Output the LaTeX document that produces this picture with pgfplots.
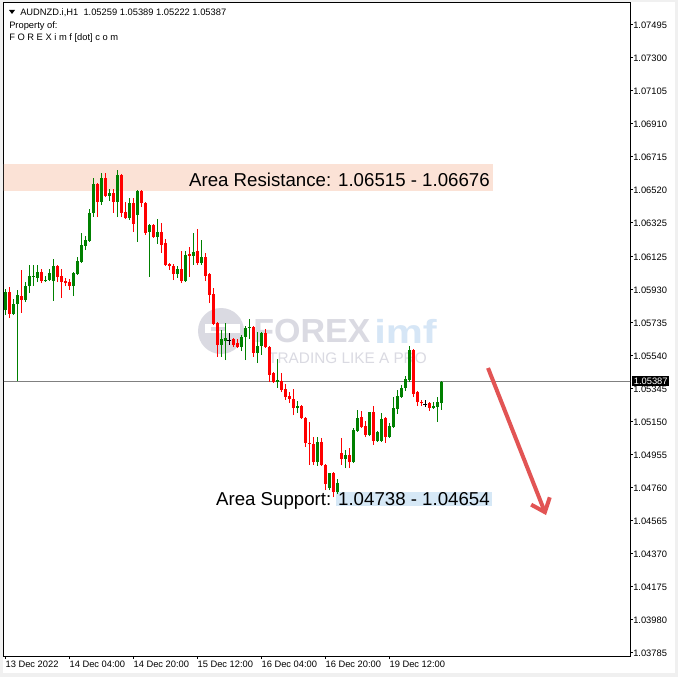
\documentclass[border=0pt]{standalone}
\usepackage{fontspec}
\setmainfont{Liberation Sans}
\usepackage{pgfplots}
\usepackage{pgfplotstable}
\pgfplotsset{compat=1.18}
\usetikzlibrary{arrows.meta}

\definecolor{upc}{RGB}{0,128,0}
\definecolor{dnc}{RGB}{255,0,0}
\definecolor{resc}{RGB}{251,226,214}
\definecolor{supc}{RGB}{214,232,246}
\definecolor{arrc}{RGB}{226,84,84}
\definecolor{wmgray}{RGB}{218,218,226}
\definecolor{wmblue}{RGB}{214,230,246}
\definecolor{winbg}{RGB}{240,240,240}
\definecolor{pline}{RGB}{128,128,128}

% AUDNZD H1 candles, index = bar number from the left
\pgfplotstableread{
i o h l c
0 1.05811 1.05935 1.05781 1.05917
1 1.05917 1.05947 1.05763 1.05787
2 1.05787 1.05876 1.05781 1.05846
3 1.05846 1.05929 1.05391 1.05899
4 1.05893 1.06047 1.05793 1.05870
5 1.05870 1.05976 1.05858 1.05952
6 1.05952 1.06077 1.05911 1.06012
7 1.06006 1.06077 1.05952 1.06012
8 1.06000 1.06077 1.05976 1.06035
9 1.06035 1.06053 1.05970 1.05982
10 1.05982 1.06012 1.05976 1.05988
11 1.05988 1.06053 1.05982 1.06029
12 1.05982 1.06112 1.05864 1.06071
13 1.06071 1.06077 1.05976 1.06006
14 1.06012 1.06053 1.05882 1.05976
15 1.05982 1.06000 1.05952 1.05970
16 1.05976 1.05994 1.05929 1.05952
17 1.05952 1.06035 1.05893 1.06029
18 1.06023 1.06124 1.06018 1.06100
19 1.06094 1.06266 1.06088 1.06195
20 1.06189 1.06248 1.06165 1.06224
21 1.06218 1.06408 1.06213 1.06384
22 1.06384 1.06591 1.06360 1.06555
23 1.06555 1.06561 1.06360 1.06449
24 1.06449 1.06620 1.06431 1.06591
25 1.06591 1.06620 1.06478 1.06484
26 1.06484 1.06526 1.06455 1.06502
27 1.06502 1.06526 1.06384 1.06449
28 1.06449 1.06638 1.06360 1.06609
29 1.06609 1.06614 1.06360 1.06384
30 1.06390 1.06449 1.06348 1.06354
31 1.06354 1.06473 1.06343 1.06443
32 1.06443 1.06473 1.06272 1.06319
33 1.06372 1.06520 1.06213 1.06514
34 1.06514 1.06520 1.06419 1.06443
35 1.06443 1.06449 1.06254 1.06266
36 1.06272 1.06319 1.06006 1.06313
37 1.06313 1.06319 1.06236 1.06242
38 1.06242 1.06348 1.06201 1.06272
39 1.06272 1.06325 1.06148 1.06195
40 1.06207 1.06230 1.06071 1.06077
41 1.06083 1.06088 1.06047 1.06071
42 1.06071 1.06083 1.05988 1.06023
43 1.06023 1.06071 1.06000 1.06053
44 1.06053 1.06159 1.05970 1.05982
45 1.05982 1.06159 1.05976 1.06136
46 1.06142 1.06183 1.06006 1.06130
47 1.06130 1.06266 1.06077 1.06153
48 1.06159 1.06289 1.06077 1.06088
49 1.06088 1.06224 1.06077 1.06124
50 1.06124 1.06148 1.05982 1.06012
51 1.06023 1.06029 1.05852 1.05899
52 1.05905 1.05941 1.05722 1.05728
53 1.05734 1.05740 1.05533 1.05604
54 1.05604 1.05692 1.05533 1.05639
55 1.05627 1.05734 1.05515 1.05645
56 1.05633 1.05675 1.05604 1.05633
57 1.05639 1.05645 1.05592 1.05604
58 1.05616 1.05639 1.05586 1.05592
59 1.05592 1.05663 1.05568 1.05651
60 1.05651 1.05716 1.05515 1.05704
61 1.05704 1.05757 1.05639 1.05710
62 1.05710 1.05716 1.05533 1.05557
63 1.05557 1.05681 1.05497 1.05598
64 1.05598 1.05681 1.05545 1.05675
65 1.05675 1.05698 1.05586 1.05592
66 1.05592 1.05598 1.05385 1.05427
67 1.05438 1.05444 1.05379 1.05385
68 1.05385 1.05521 1.05350 1.05397
69 1.05391 1.05438 1.05326 1.05338
70 1.05344 1.05373 1.05279 1.05296
71 1.05302 1.05326 1.05261 1.05285
72 1.05285 1.05344 1.05190 1.05231
73 1.05231 1.05273 1.05202 1.05243
74 1.05243 1.05249 1.05166 1.05172
75 1.05172 1.05178 1.05001 1.05025
76 1.05025 1.05149 1.04895 1.05019
77 1.05019 1.05060 1.04895 1.04912
78 1.04912 1.05060 1.04889 1.05031
79 1.05031 1.05054 1.04889 1.04895
80 1.04895 1.04901 1.04747 1.04783
81 1.04759 1.04847 1.04747 1.04847
82 1.04847 1.04853 1.04705 1.04735
83 1.04735 1.04812 1.04723 1.04788
84 1.04966 1.05054 1.04895 1.04930
85 1.04930 1.04983 1.04877 1.04954
86 1.04954 1.04995 1.04877 1.04912
87 1.04912 1.05113 1.04906 1.05101
88 1.05096 1.05220 1.05090 1.05172
89 1.05178 1.05214 1.05113 1.05119
90 1.05125 1.05155 1.05060 1.05072
91 1.05072 1.05208 1.05066 1.05208
92 1.05208 1.05243 1.05013 1.05036
93 1.05036 1.05096 1.05031 1.05090
94 1.05036 1.05202 1.05031 1.05166
95 1.05172 1.05178 1.05025 1.05060
96 1.05060 1.05143 1.05054 1.05125
97 1.05119 1.05296 1.05113 1.05231
98 1.05226 1.05338 1.05196 1.05302
99 1.05296 1.05367 1.05291 1.05350
100 1.05350 1.05421 1.05332 1.05403
101 1.05397 1.05598 1.05385 1.05574
102 1.05574 1.05580 1.05296 1.05314
103 1.05326 1.05332 1.05243 1.05267
104 1.05267 1.05279 1.05243 1.05261
105 1.05255 1.05279 1.05237 1.05255
106 1.05261 1.05267 1.05214 1.05231
107 1.05231 1.05267 1.05226 1.05243
108 1.05237 1.05296 1.05149 1.05267
109 1.05259 1.05389 1.05222 1.05387
}\candles

\begin{document}
\begin{tikzpicture}
% window background and watermark (px units, y down)
\begin{scope}[x=0.75pt,y=-0.75pt]
  \fill[winbg] (0,0) rectangle (678,677);
  \fill[white] (3,2) rectangle (675,673);
  \fill[wmgray] (221,331) circle (23);
  \fill[white] (205,324) rectangle (240,333);
  \fill[wmgray] (211,327) rectangle (226,331);
  \node[anchor=west, inner sep=0, text=wmgray, font=\bfseries\fontsize{25}{28}\selectfont, xscale=1.02] at (253,331) {FOREX};
  \node[anchor=west, inner sep=0, text=wmblue, font=\bfseries\fontsize{25}{28}\selectfont, xscale=1.25] at (374,331) {imf};
  \node[anchor=base west, inner sep=0, text=wmgray, font=\fontsize{11.5}{13}\selectfont] at (268,363) {TRADING LIKE A PRO};
\end{scope}

\begin{axis}[
    at={(3pt,-492pt)}, anchor=south west,
    scale only axis, width=469.5pt, height=489.75pt,
    xmin=-0.325, xmax=156.175,
    ymin=1.03766, ymax=1.07625,
    axis line style={black, line width=0.75pt},
    xtick={0,16,32,48,64,80,96},
    xticklabels={13 Dec 2022,14 Dec 04:00,14 Dec 20:00,15 Dec 12:00,16 Dec 04:00,16 Dec 20:00,19 Dec 12:00},
    ytick={1.07495,1.07300,1.07105,1.06910,1.06715,1.06520,1.06325,1.06125,1.05930,1.05735,1.05540,1.05345,1.05150,1.04955,1.04760,1.04565,1.04370,1.04175,1.03980,1.03785},
    yticklabels={1.07495,1.07300,1.07105,1.06910,1.06715,1.06520,1.06325,1.06125,1.05930,1.05735,1.05540,1.05345,1.05150,1.04955,1.04760,1.04565,1.04370,1.04175,1.03980,1.03785},
    xtick pos=bottom, ytick pos=right, yticklabel pos=right,
    tick align=outside, major tick length=2.25pt,
    tick style={black, line width=0.75pt},
    ticklabel style={font=\fontsize{7}{8}\selectfont},
    xticklabel style={anchor=north west, inner sep=0pt, yshift=-1.5pt},
    yticklabel style={anchor=west, inner sep=0pt},
    clip=true,
]
% zones
\addplot[fill=resc, draw=none, forget plot] coordinates {(-1,1.06515) (121.9,1.06515) (121.9,1.06676) (-1,1.06676)};
\addplot[fill=supc, draw=none, forget plot] coordinates {(82.7,1.04654) (121.7,1.04654) (121.7,1.04738) (82.7,1.04738)};
% current price line
\addplot[pline, line width=0.75pt, forget plot] coordinates {(-1,1.05387) (160,1.05387)};

% bull candles: wicks then bodies
\addplot[draw=none, mark=none, forget plot,
    restrict expr to domain={\thisrow{c}-\thisrow{o}}{0.000001:1},
    error bars/.cd, y dir=plus, y explicit, error mark=none,
    error bar style={draw=upc, line width=0.75pt, line cap=butt}]
    table[x=i, y=l, y error plus expr=\thisrow{h}-\thisrow{l}] {\candles};
\addplot[draw=none, mark=none, forget plot,
    restrict expr to domain={\thisrow{c}-\thisrow{o}}{0.000001:1},
    error bars/.cd, y dir=plus, y explicit, error mark=none,
    error bar style={draw=upc, line width=2.25pt, line cap=butt}]
    table[x=i, y=o, y error plus expr=\thisrow{c}-\thisrow{o}] {\candles};
% bear candles
\addplot[draw=none, mark=none, forget plot,
    restrict expr to domain={\thisrow{c}-\thisrow{o}}{-1:-0.000001},
    error bars/.cd, y dir=plus, y explicit, error mark=none,
    error bar style={draw=dnc, line width=0.75pt, line cap=butt}]
    table[x=i, y=l, y error plus expr=\thisrow{h}-\thisrow{l}] {\candles};
\addplot[draw=none, mark=none, forget plot,
    restrict expr to domain={\thisrow{c}-\thisrow{o}}{-1:-0.000001},
    error bars/.cd, y dir=plus, y explicit, error mark=none,
    error bar style={draw=dnc, line width=2.25pt, line cap=butt}]
    table[x=i, y=c, y error plus expr=\thisrow{o}-\thisrow{c}] {\candles};
% doji
\addplot[only marks, mark=-, mark size=1.5pt, black, mark options={line width=0.75pt}, forget plot,
    restrict expr to domain={\thisrow{c}-\thisrow{o}}{-0.000001:0.000001},
    error bars/.cd, y dir=both, y explicit, error mark=none,
    error bar style={draw=black, line width=0.75pt, line cap=butt}]
    table[x=i, y=o, y error plus expr=\thisrow{h}-\thisrow{o}, y error minus expr=\thisrow{o}-\thisrow{l}] {\candles};

% expected move
\addplot[arrc, line width=3pt, -{Straight Barb[length=9pt,width=15pt]}, forget plot]
    coordinates {(120.68,1.05468) (135.18,1.04599)};
\end{axis}

\begin{scope}[x=0.75pt,y=-0.75pt]
  \node[anchor=base east, inner sep=0, font=\fontsize{14}{16}\selectfont] at (490,187) {Area Resistance: 1.06515 - 1.06676};
  \node[anchor=base east, inner sep=0, font=\fontsize{14}{16}\selectfont] at (490,505) {Area Support: 1.04738 - 1.04654};
  \node[anchor=west, fill=black, text=white, inner xsep=1.2pt, inner ysep=1.5pt, font=\fontsize{7}{8}\selectfont] at (632,381) {1.05387};
  \fill (9,10) -- (15,10) -- (12,14) -- cycle;
  \node[anchor=base west, inner sep=0, font=\fontsize{7}{8}\selectfont] at (20,15.5) {AUDNZD.i,H1\ \ 1.05259 1.05389 1.05222 1.05387};
  \node[anchor=base west, inner sep=0, font=\fontsize{7}{8}\selectfont] at (9,28.3) {Property of:};
  \node[anchor=base west, inner sep=0, font=\fontsize{7}{8}\selectfont] at (9,40.7) {F O R E X i m f [dot] c o m};
  \pgfresetboundingbox
  \path[use as bounding box] (0,0) rectangle (678,677);
\end{scope}
\end{tikzpicture}
\end{document}
